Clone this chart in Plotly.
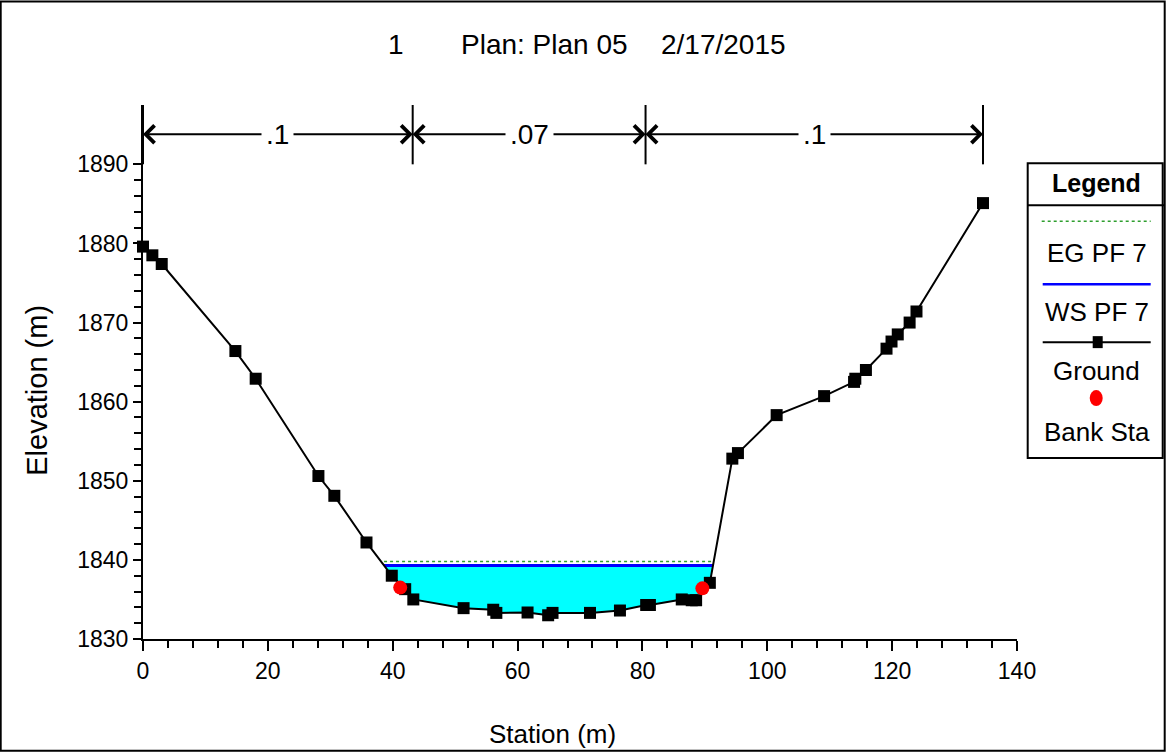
import numpy as np
import plotly.graph_objects as go

# ---------------- data ----------------
station = [0, 1.5, 3.0, 14.8, 18.05, 28.1, 30.65, 35.8, 39.85, 42.0, 43.3, 51.35,
           56.1, 56.6, 61.6, 64.9, 65.6, 71.6, 76.4, 80.6, 81.2, 86.3, 87.9, 88.6,
           90.8, 94.4, 95.3, 101.5, 109.1, 113.9, 114.1, 115.8, 119.1, 119.9, 120.9,
           122.8, 123.9, 134.55]
elevation = [1879.6, 1878.5, 1877.4, 1866.4, 1862.9, 1850.6, 1848.1, 1842.2, 1838.0,
             1836.3, 1835.0, 1833.9, 1833.7, 1833.3, 1833.35, 1833.0, 1833.3, 1833.3,
             1833.6, 1834.3, 1834.3, 1835.0, 1834.9, 1834.9, 1837.1, 1852.8, 1853.5,
             1858.3, 1860.7, 1862.5, 1862.9, 1864.0, 1866.7, 1867.6, 1868.5, 1870.0,
             1871.4, 1885.1]
bank_sta = [41.2, 89.6]
bank_elev = [1836.5, 1836.4]
ws_elev = 1839.28
eg_elev = 1839.81
n_bounds = [0, 43.2, 80.5, 134.55]
n_values = [".1", ".07", ".1"]
x_ticks = [0, 20, 40, 60, 80, 100, 120, 140]
y_ticks = [1830, 1840, 1850, 1860, 1870, 1880, 1890]

title_parts = ["1", "Plan: Plan 05", "2/17/2015"]
legend_labels = ["EG PF 7", "WS PF 7", "Ground", "Bank Sta"]

FONT = "Liberation Sans, Arial, sans-serif"
EG_COLOR = "#2e9e2e"

# ---------------- geometry of the page ----------------
W, H = 1166, 752
L, R, T, B = 143.3, 148.7, 104.6, 112.8
PW, PH = W - L - R, H - T - B
Y_TOP = 1830 + PH / 7.92


def px(X):
    return (X - L) / PW


def py(Y):
    return (H - B - Y) / PH


def text_ann(X, Y, txt, size, xanchor="center", angle=0):
    return dict(x=px(X), y=py(Y), xref="paper", yref="paper", text=txt,
                showarrow=False, xanchor=xanchor, yanchor="middle", textangle=angle,
                font=dict(family=FONT, size=size, color="black"))


# ---------------- water surface extents ----------------
st = np.array(station)
el = np.array(elevation)
below = np.where(el < ws_elev)[0]
i0, i1 = below[0], below[-1]
xl = np.interp(ws_elev, [el[i0], el[i0 - 1]], [st[i0], st[i0 - 1]])
xr = np.interp(ws_elev, [el[i1], el[i1 + 1]], [st[i1], st[i1 + 1]])
fill_x = [xl] + list(st[i0:i1 + 1]) + [xr, xl]
fill_y = [ws_elev] + list(el[i0:i1 + 1]) + [ws_elev, ws_elev]

fig = go.Figure()
fig.add_trace(go.Scatter(x=fill_x, y=fill_y, fill="toself", fillcolor="#00FFFF",
                         mode="lines", line=dict(width=0), hoverinfo="skip",
                         showlegend=False))
fig.add_trace(go.Scatter(x=[xl, xr], y=[eg_elev, eg_elev], mode="lines",
                         line=dict(color=EG_COLOR, width=1.5, dash="dot"),
                         name=legend_labels[0], showlegend=False))
fig.add_trace(go.Scatter(x=[xl, xr], y=[ws_elev, ws_elev], mode="lines",
                         line=dict(color="#0000FF", width=3),
                         name=legend_labels[1], showlegend=False))
fig.add_trace(go.Scatter(x=station, y=elevation, mode="lines+markers",
                         line=dict(color="black", width=2),
                         marker=dict(symbol="square", size=12, color="black"),
                         name=legend_labels[2], showlegend=False, cliponaxis=False))
fig.add_trace(go.Scatter(x=bank_sta, y=bank_elev, mode="markers",
                         marker=dict(symbol="circle", size=14, color="#FF0000"),
                         name=legend_labels[3], showlegend=False, cliponaxis=False))

shapes = []
annotations = []

# n-value boundary lines and arrows
arrow_y = 1893.8
for s in n_bounds:
    shapes.append(dict(type="line", xref="x", yref="y", x0=s, x1=s, y0=1890, y1=Y_TOP,
                       line=dict(color="black", width=2)))
for i, lab in enumerate(n_values):
    a, b = n_bounds[i], n_bounds[i + 1]
    m = (a + b) / 2
    for tip in (a, b):
        annotations.append(dict(x=tip, y=arrow_y, ax=m, ay=arrow_y, xref="x", yref="y",
                                axref="x", ayref="y", text="", showarrow=True,
                                arrowhead=4, arrowsize=1.7, arrowwidth=2,
                                arrowcolor="black", standoff=0, startstandoff=0))
    annotations.append(dict(x=m, y=arrow_y, xref="x", yref="y", text=lab,
                            showarrow=False, bgcolor="white", xanchor="center",
                            yanchor="middle",
                            font=dict(family=FONT, size=28, color="black"),
                            borderpad=4))

# title
annotations.append(text_ann(396, 44, title_parts[0], 28))
annotations.append(text_ann(459, 44, title_parts[1], 28, xanchor="left"))
annotations.append(text_ann(659, 44, title_parts[2], 28, xanchor="left"))

# axis titles
annotations.append(text_ann(553, 734, "Station (m)", 26))
annotations.append(text_ann(37, 390, "Elevation (m)", 29, angle=-90))

# outer frame
shapes.append(dict(type="rect", xref="paper", yref="paper", x0=px(1), x1=px(1165),
                   y0=py(751), y1=py(1), line=dict(color="black", width=2)))

# legend box
shapes.append(dict(type="rect", xref="paper", yref="paper", x0=px(1028), x1=px(1163),
                   y0=py(458), y1=py(163), line=dict(color="black", width=2),
                   fillcolor="white"))
shapes.append(dict(type="line", xref="paper", yref="paper", x0=px(1028), x1=px(1165),
                   y0=py(205), y1=py(205), line=dict(color="black", width=2)))
annotations.append(text_ann(1097, 183, "<b>Legend</b>", 25))
# EG symbol
shapes.append(dict(type="line", xref="paper", yref="paper", x0=px(1042), x1=px(1151),
                   y0=py(221), y1=py(221), line=dict(color=EG_COLOR, width=1.5, dash="dot")))
# WS symbol
shapes.append(dict(type="line", xref="paper", yref="paper", x0=px(1043), x1=px(1151),
                   y0=py(284), y1=py(284), line=dict(color="#0000FF", width=2.5)))
# Ground symbol
shapes.append(dict(type="line", xref="paper", yref="paper", x0=px(1043), x1=px(1151),
                   y0=py(342), y1=py(342), line=dict(color="black", width=2)))
shapes.append(dict(type="rect", xref="paper", yref="paper", x0=px(1093), x1=px(1103),
                   y0=py(348), y1=py(336), line=dict(color="black", width=0),
                   fillcolor="black"))
# Bank symbol
shapes.append(dict(type="circle", xref="paper", yref="paper", x0=px(1090), x1=px(1103),
                   y0=py(406), y1=py(390), line=dict(color="#FF0000", width=0),
                   fillcolor="#FF0000"))
for lab, yy in zip(legend_labels, [253, 312, 371, 432]):
    annotations.append(text_ann(1097, yy, lab, 26))

fig.update_layout(
    width=W, height=H,
    margin=dict(l=L, r=R, t=T, b=B, pad=0),
    paper_bgcolor="white", plot_bgcolor="white",
    showlegend=False,
    shapes=shapes, annotations=annotations,
    xaxis=dict(range=[0, 140], tickvals=x_ticks, showgrid=False, zeroline=False,
               showline=True, linecolor="black", linewidth=2,
               ticks="outside", ticklen=10, tickwidth=2, tickcolor="black",
               tickfont=dict(family=FONT, size=23, color="black"),
               minor=dict(tickvals=list(np.arange(0, 141, 4)), ticks="outside",
                          ticklen=7, tickwidth=1.5, tickcolor="black", showgrid=False)),
    yaxis=dict(range=[1830, Y_TOP], tickvals=y_ticks, showgrid=False, zeroline=False,
               showline=True, linecolor="black", linewidth=2,
               ticks="outside", ticklen=8, tickwidth=2, tickcolor="black",
               tickfont=dict(family=FONT, size=23, color="black"),
               minor=dict(tickvals=list(np.arange(1830, 1891, 2)), ticks="outside",
                          ticklen=7, tickwidth=1.5, tickcolor="black", showgrid=False)),
)

fig.write_html("out.html",
               config={"displayModeBar": False},
               post_script="document.body.style.margin='0px';"
                           "document.body.style.overflow='hidden';")
